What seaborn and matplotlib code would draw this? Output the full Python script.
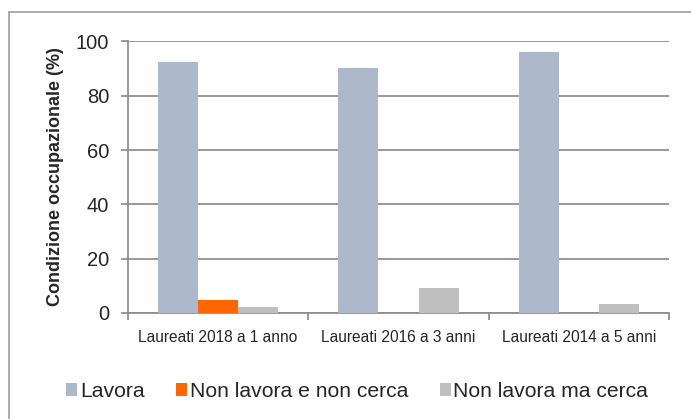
import numpy as np
import pandas as pd
import matplotlib
matplotlib.use('Agg')
import matplotlib.pyplot as plt
import seaborn as sns
from matplotlib.lines import Line2D

sns.set_style('white')
plt.rcParams['font.family'] = ['Liberation Sans', 'DejaVu Sans']

categorie = ['Laureati 2018 a 1 anno', 'Laureati 2016 a 3 anni', 'Laureati 2014 a 5 anni']
serie = ['Lavora', 'Non lavora e non cerca', 'Non lavora ma cerca']
lavora = [92.3, 90.4, 96.2]
non_lavora_non_cerca = [4.9, 0.0, 0.0]
non_lavora_cerca = [2.3, 9.3, 3.4]
colori = ['#ADB8CA', '#FF6600', '#BFBFBF']
y_ticks = [0, 20, 40, 60, 80, 100]

df = pd.DataFrame({
    'categoria': categorie * 3,
    'condizione': np.repeat(serie, 3),
    'valore': lavora + non_lavora_non_cerca + non_lavora_cerca,
})

fig = plt.figure(figsize=(6.91, 4.19), dpi=100)
ax = fig.add_axes([0.1852, 0.253, 0.783, 0.648])

sns.barplot(data=df, x='categoria', y='valore', hue='condizione', hue_order=serie,
            order=categorie, palette=colori, width=0.667, gap=0, saturation=1,
            linewidth=0, errorbar=None, ax=ax, zorder=3)

grid_col = '#8C8C8C'
ax.set_ylim(0, 100)
ax.set_xlim(-0.5, 2.5)
ax.set_yticks(y_ticks)
ax.yaxis.grid(True, color=grid_col, linewidth=1.25, zorder=0)
ax.set_axisbelow(True)
for s in ['top', 'right']:
    ax.spines[s].set_visible(False)
for s in ['left', 'bottom']:
    ax.spines[s].set_color(grid_col)
    ax.spines[s].set_linewidth(1.25)

ax.tick_params(axis='y', which='major', direction='out', length=5, width=1.25,
               color=grid_col, labelsize=14.5, pad=8.5, left=True)
ax.tick_params(axis='x', which='major', length=0, labelsize=11.2, pad=12)
ax.set_xticks([-0.5, 0.5, 1.5, 2.5], minor=True)
ax.tick_params(axis='x', which='minor', direction='out', length=5, width=1.25,
               color=grid_col, bottom=True)

ax.set_xlabel('')
ax.set_ylabel('')
fig.text(0.081, 0.578, 'Condizione occupazionale (%)', rotation=90,
         ha='center', va='center', fontsize=13, fontweight='bold')

handles, labels = ax.get_legend_handles_labels()
ax.legend_.remove()
fig.legend(handles, labels, loc='center', bbox_to_anchor=(0.517, 0.0656), ncol=3,
           frameon=False, fontsize=15.2, handlelength=0.52, handleheight=0.52,
           handletextpad=0.12, columnspacing=1.5, borderpad=0)

# cornice del grafico
fig.add_artist(Line2D([8.5 / 691, 8.5 / 691], [0, 1 - 12.5 / 419],
                      transform=fig.transFigure, color='#A6A6A6', linewidth=1.3))
fig.add_artist(Line2D([8.5 / 691, 1], [1 - 12.5 / 419, 1 - 12.5 / 419],
                      transform=fig.transFigure, color='#A6A6A6', linewidth=1.3))

fig.savefig('out.png', dpi=100)
